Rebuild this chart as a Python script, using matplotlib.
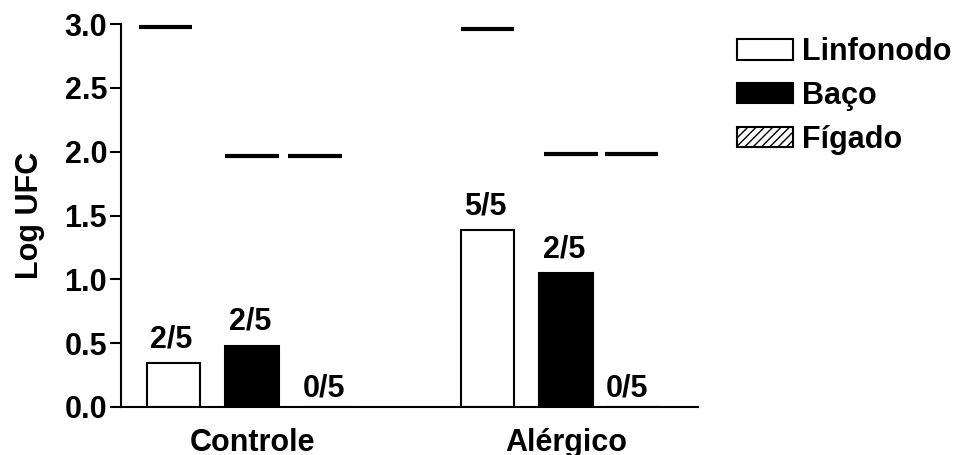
import numpy as np
import matplotlib
matplotlib.use("Agg")
import matplotlib.pyplot as plt

plt.rcParams['font.family'] = ['Liberation Sans', 'DejaVu Sans']
plt.rcParams['font.weight'] = 'bold'
plt.rcParams['hatch.linewidth'] = 1.0

groups = ['Controle', 'Alérgico']
organs = ['Linfonodo', 'Baço', 'Fígado']
values = {
    'Linfonodo': [0.345, 1.385],
    'Baço': [0.48, 1.05],
    'Fígado': [0.0, 0.0],
}
limits = {
    'Linfonodo': [2.98, 2.96],
    'Baço': [1.97, 1.98],
    'Fígado': [1.97, 1.98],
}
counts = {
    'Linfonodo': ['2/5', '5/5'],
    'Baço': ['2/5', '2/5'],
    'Fígado': ['0/5', '0/5'],
}

faces = {'Linfonodo': 'white', 'Baço': 'black', 'Fígado': 'white'}
hatches = {'Linfonodo': None, 'Baço': None, 'Fígado': '////'}
# small shifts of the limit lines relative to their bars (as in the original)
line_shift = {('Linfonodo', 0): -0.1, ('Fígado', 0): -0.2,
              ('Baço', 1): 0.06, ('Fígado', 1): -0.17}
bar_shift = {('Fígado', 1): -0.15}

FS = 22
fig = plt.figure(figsize=(9.56, 4.55), dpi=100)
ax = fig.add_axes([0.1266, 0.1055, 0.6035, 0.8415])

centers = np.array([0, 4])
width = 0.68
for i, org in enumerate(organs):
    xs = centers + (i - 1) + np.array([bar_shift.get((org, j), 0) for j in range(2)])
    ax.bar(xs, values[org], width, color=faces[org], edgecolor='black',
           linewidth=1.5, hatch=hatches[org], label=org)
    for j, x in enumerate(xs):
        s = line_shift.get((org, j), 0) - bar_shift.get((org, j), 0)
        ax.plot([x - width / 2 + s, x + width / 2 + s], [limits[org][j]] * 2,
                color='black', lw=3, solid_capstyle='butt', clip_on=False)
        dy = 0.07 if values[org][j] > 0 else 0.03
        ax.text(x - (0.08 if org == 'Fígado' else 0.03), values[org][j] + dy,
                counts[org][j], ha='center', va='bottom', fontsize=FS,
                fontweight='bold')

ax.set_xlim(-1.67, 5.68)
ax.set_ylim(0, 3.0)
ax.set_yticks(np.arange(0, 3.01, 0.5))
ax.set_yticklabels([f'{v:.1f}' for v in np.arange(0, 3.01, 0.5)])
ax.set_xticks(centers)
ax.set_xticklabels(groups)
ax.tick_params(axis='x', length=0, labelsize=FS, pad=15)
ax.tick_params(axis='y', length=8, width=1.5, labelsize=FS, pad=2)
ax.set_ylabel('Log UFC', fontsize=FS, fontweight='bold', labelpad=14)

for s in ['top', 'right']:
    ax.spines[s].set_visible(False)
for s in ['left', 'bottom']:
    ax.spines[s].set_linewidth(1.5)

fig.legend(loc='upper left', bbox_to_anchor=(0.758, 0.945), frameon=False,
           fontsize=FS, handlelength=1.83, handleheight=0.65,
           handletextpad=0.3, labelspacing=0.45, borderaxespad=0)

fig.savefig('out.png', dpi=100)
